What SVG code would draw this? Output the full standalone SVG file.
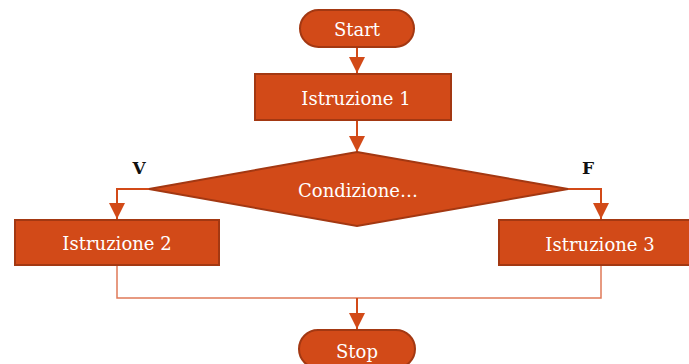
<svg xmlns="http://www.w3.org/2000/svg" width="689" height="364" viewBox="0 0 689 364">
  <style>
    .shape { fill: #D24A18; stroke: #A33812; stroke-width: 2; }
    .label { font-family: "DejaVu Serif", "Liberation Serif", serif; font-size: 18px; fill: #ffffff; text-anchor: middle; dominant-baseline: central; }
    .branch { font-family: "DejaVu Serif", "Liberation Serif", serif; font-size: 17px; font-weight: bold; fill: #111111; text-anchor: middle; dominant-baseline: central; }
    .flow { fill: none; stroke: #D24A18; stroke-width: 2; }
    .join { fill: none; stroke: #E07A58; stroke-width: 1.5; }
  </style>
  <defs>
    <marker id="arrow" markerUnits="userSpaceOnUse" markerWidth="16" markerHeight="16" viewBox="0 0 16 16" refX="16" refY="8" orient="auto">
      <path d="M0,0 L16,8 L0,16 Z" fill="#D24A18"/>
    </marker>
  </defs>

  <rect width="689" height="364" fill="#ffffff"/>

  <!-- connectors -->
  <g id="connectors">
    <path class="flow" d="M357,48 L357,73" marker-end="url(#arrow)"/>
    <path class="flow" d="M357,121 L357,152" marker-end="url(#arrow)"/>
    <path class="flow" d="M149,189 L117,189 L117,219" marker-end="url(#arrow)"/>
    <path class="flow" d="M568,189 L601,189 L601,219" marker-end="url(#arrow)"/>
    <path class="join" d="M117,266 L117,298 L601,298 L601,266"/>
    <path class="flow" d="M357,298 L357,329" marker-end="url(#arrow)"/>
  </g>

  <g id="start">
    <rect class="shape" x="300" y="10" width="114" height="37" rx="18.5"/>
    <text class="label" x="357" y="29">Start</text>
  </g>

  <g id="istruzione1">
    <rect class="shape" x="255" y="74" width="196" height="46"/>
    <text class="label" x="356" y="98">Istruzione 1</text>
  </g>

  <g id="condizione">
    <polygon class="shape" points="357,152 568,189 357,226 149,189"/>
    <text class="label" x="358" y="190">Condizione…</text>
  </g>

  <g id="label-v">
    <text class="branch" x="139" y="168">V</text>
  </g>
  <g id="label-f">
    <text class="branch" x="588" y="168">F</text>
  </g>

  <g id="istruzione2">
    <rect class="shape" x="15" y="220" width="204" height="45"/>
    <text class="label" x="117" y="243">Istruzione 2</text>
  </g>

  <g id="istruzione3">
    <rect class="shape" x="499" y="220" width="196" height="45"/>
    <text class="label" x="600" y="244">Istruzione 3</text>
  </g>

  <g id="stop">
    <rect class="shape" x="299" y="330" width="116" height="38" rx="19"/>
    <text class="label" x="357" y="351">Stop</text>
  </g>
</svg>
